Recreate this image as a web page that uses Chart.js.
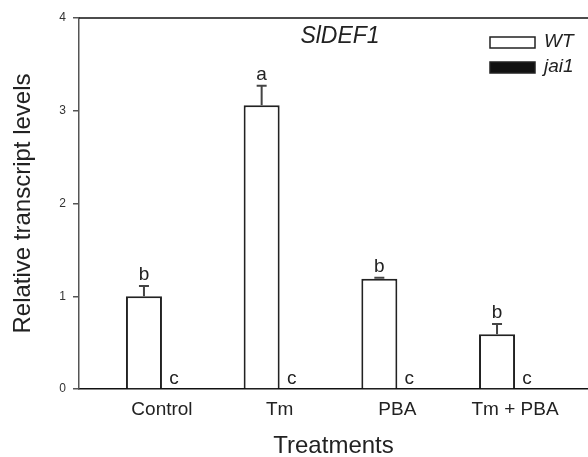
<!DOCTYPE html>
<html>
<head>
<meta charset="utf-8">
<script src="https://cdn.jsdelivr.net/npm/chart.js@4"></script>
<style>
  html, body { margin: 0; padding: 0; background: #fff; }
  #wrap { position: relative; width: 588px; height: 457px; }
</style>
</head>
<body>
<div id="wrap"><canvas id="c"></canvas></div>
<script>
  /* ===== SlDEF1 relative transcript levels ===== */
  var categories = ["Control", "Tm", "PBA", "Tm + PBA"];
  var wtValues = [1.00, 3.06, 1.19, 0.59];
  var wtErrors = [0.11, 0.21, 0.01, 0.11];
  var jai1Values = [0, 0, 0, 0];
  var jai1Errors = [0, 0, 0, 0];
  var wtLetters = ["b", "a", "b", "b"];
  var jai1Letters = ["c", "c", "c", "c"];
  var yTicks = [0, 1, 2, 3, 4];

  var FONT = "'Liberation Sans', Arial, sans-serif";

  function pts(vals) {
    return vals.map(function (v, i) { return { x: i, y: v }; });
  }

  // error bars + significance letters, drawn from the bar elements
  var extras = {
    id: "extras",
    afterDatasetsDraw: function (chart) {
      var ctx = chart.ctx, y = chart.scales.y;
      var sets = [
        { meta: chart.getDatasetMeta(0), vals: wtValues, errs: wtErrors, letters: wtLetters, dx: 0, gap: 6 },
        { meta: chart.getDatasetMeta(1), vals: jai1Values, errs: jai1Errors, letters: jai1Letters, dx: -6, gap: 5 }
      ];
      ctx.save();
      sets.forEach(function (s) {
        s.meta.data.forEach(function (bar, i) {
          var top = y.getPixelForValue(s.vals[i] + s.errs[i]);
          var base = y.getPixelForValue(s.vals[i]);
          if (s.errs[i] > 0) {
            ctx.strokeStyle = "#444";
            ctx.lineWidth = 2;
            ctx.beginPath();
            ctx.moveTo(bar.x, base);
            ctx.lineTo(bar.x, top);
            ctx.moveTo(bar.x - 5, top);
            ctx.lineTo(bar.x + 5, top);
            ctx.stroke();
          }
          ctx.fillStyle = "#222";
          ctx.font = "19px " + FONT;
          ctx.textAlign = "center";
          ctx.textBaseline = "alphabetic";
          ctx.fillText(s.letters[i], bar.x + s.dx, top - s.gap);
        });
      });

      // top frame line
      var a = chart.chartArea;
      ctx.strokeStyle = "#111";
      ctx.lineWidth = 1.5;
      ctx.beginPath();
      ctx.moveTo(a.left, a.top);
      ctx.lineTo(a.right, a.top);
      ctx.stroke();

      // gene title
      ctx.fillStyle = "#222";
      ctx.font = "italic 23px " + FONT;
      ctx.textAlign = "center";
      ctx.textBaseline = "middle";
      ctx.fillText("SlDEF1", 340, 37);

      // legend
      chart.data.datasets.forEach(function (ds, i) {
        var ly = 37 + i * 25;
        ctx.fillStyle = ds.legendFill;
        ctx.fillRect(490, ly, 45, 11);
        ctx.strokeStyle = "#222";
        ctx.lineWidth = 1.5;
        ctx.strokeRect(490, ly, 45, 11);
        ctx.fillStyle = "#222";
        ctx.font = "italic 19px " + FONT;
        ctx.textAlign = "left";
        ctx.textBaseline = "middle";
        ctx.fillText(ds.label, 544, ly + 5);
      });
      ctx.restore();
    }
  };

  new Chart(document.getElementById("c"), {
    type: "bar",
    data: {
      datasets: [
        { label: "WT", data: pts(wtValues), backgroundColor: "#ffffff", legendFill: "#ffffff",
          borderColor: "#222", borderWidth: 2, borderSkipped: "bottom" },
        { label: "jai1", data: pts(jai1Values), backgroundColor: "#111111", legendFill: "#111111",
          borderColor: "#111", borderWidth: 0 }
      ]
    },
    options: {
      responsive: true,
      maintainAspectRatio: false,
      animation: false,
      layout: { padding: { top: 18, right: 0, left: 0, bottom: 0 } },
      barPercentage: 1,
      categoryPercentage: 0.612,
      plugins: { legend: { display: false }, tooltip: { enabled: false } },
      scales: {
        x: {
          type: "linear",
          offset: false,
          min: -0.705,
          max: 3.62,
          afterFit: function (s) { s.height = 68; },
          grid: { display: false, drawTicks: false, offset: false },
          border: { display: true, color: "#111", width: 1.5 },
          ticks: {
            stepSize: 1,
            includeBounds: false,
            padding: 9,
            color: "#222",
            font: { family: FONT, size: 19 },
            callback: function (v) { return categories[v] !== undefined && v % 1 === 0 ? categories[v] : ""; }
          },
          title: { display: true, text: "Treatments", color: "#222",
            font: { family: FONT, size: 24, lineHeight: 0.9 }, padding: 0 }
        },
        y: {
          min: 0,
          max: 4,
          afterFit: function (s) { s.width = 79; },
          afterBuildTicks: function (s) { s.ticks = yTicks.map(function (v) { return { value: v }; }); },
          grid: { drawOnChartArea: false, drawTicks: true, tickLength: 6, color: "#555", lineWidth: 1.5 },
          border: { display: true, color: "#555", width: 1.5 },
          ticks: { padding: 7, color: "#333", font: { family: FONT, size: 12 } },
          title: { display: true, text: "Relative transcript levels", color: "#222",
            font: { family: FONT, size: 24, lineHeight: 1.2 }, padding: { top: 9, bottom: 0 } }
        }
      }
    },
    plugins: [extras]
  });
</script>
</body>
</html>
